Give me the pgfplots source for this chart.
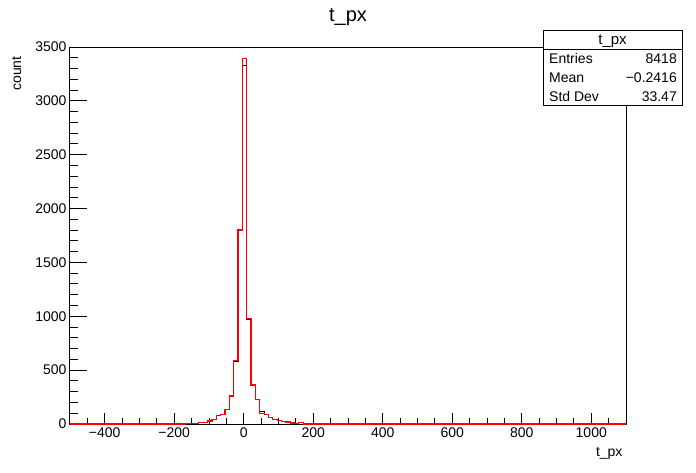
\documentclass[border=0pt]{standalone}
\usepackage{fontspec}
\setmainfont{Liberation Sans}
\usepackage{pgfplots}
\pgfplotsset{compat=1.18}
\begin{document}
\begin{tikzpicture}[x=1pt,y=1pt]
\path (0,0) rectangle (696,472);
% x ticks only
\begin{axis}[at={(70pt,48pt)}, anchor=south west, scale only axis,
  width=556pt, height=377pt,
  xmin=-500, xmax=1100, ymin=0, ymax=3500,
  axis line style={draw=none},
  xtick={-400,-200,0,200,400,600,800,1000},
  xticklabels={−400,−200,0,200,400,600,800,1000},
  minor xtick={-450,-400,...,1050},
  ytick=\empty,
  tick align=inside, xtick pos=bottom,
  major tick length=11.3pt, minor tick length=5.7pt,
  tick style={black, line width=1pt},
  xticklabel style={font=\fontsize{14}{16}\selectfont}]
\end{axis}
% main axis with y ticks and data
\begin{axis}[at={(70pt,48pt)}, anchor=south west, scale only axis,
  width=556pt, height=377pt,
  xmin=-500, xmax=1100, ymin=0, ymax=3500,
  clip=false,
  xtick=\empty,
  ytick={0,500,1000,1500,2000,2500,3000,3500},
  yticklabels={0,500,1000,1500,2000,2500,3000,3500},
  minor ytick={0,100,...,3500},
  tick align=inside, ytick pos=left,
  major tick length=16.7pt, minor tick length=8.3pt,
  axis line style={black, line width=1pt},
  tick style={black, line width=1pt},
  yticklabel style={font=\fontsize{14}{16}\selectfont}]
\addplot[const plot, black, line width=1pt] coordinates {
(-500,0) (-166.5,6) (-154,6) (-141.5,6) (-129,15) (-116.5,15) (-104,28)
(-91.5,45) (-79,75) (-66.5,90) (-54,139) (-41.5,260) (-29,578) (-16.5,1792)
(-4,3330) (8.5,966) (21,356) (33.5,226) (46,118) (58.5,90) (71,58) (83.5,43)
(96,34) (108.5,22) (121,19) (133.5,9) (146,6) (158.5,10) (171,6) (183.5,0) (1100,0)};
\addplot[const plot, red, line width=1.1pt] coordinates {
(-500,0) (-166.5,3) (-154,3) (-141.5,6) (-129,15) (-116.5,15) (-104,28)
(-91.5,43) (-79,77) (-66.5,90) (-54,136) (-41.5,260) (-29,588) (-16.5,1801)
(-4,3390) (8.5,976) (21,362) (33.5,226) (46,100) (58.5,88) (71,58) (83.5,43)
(96,34) (108.5,22) (121,19) (133.5,9) (146,6) (158.5,10) (171,0) (1100,0)};
\end{axis}
% titles
\node[anchor=base, font=\fontsize{20}{24}\selectfont] at (348,450) {t\_px};
\node[anchor=base east, rotate=90, font=\fontsize{14}{16}\selectfont] at (21,419) {count};
\node[anchor=base east, font=\fontsize{14}{16}\selectfont] at (626,16) {t\_px};
% stats box
\draw[black, line width=1pt, fill=white] (543,366) rectangle (682,441);
\draw[black, line width=1pt] (543,422.25) -- (682,422.25);
\node[anchor=base, font=\fontsize{15}{17}\selectfont] at (612.5,427.5) {t\_px};
\begin{scope}[font=\fontsize{14}{16}\selectfont]
\node[anchor=base west, inner sep=0pt] at (549,408) {Entries};
\node[anchor=base east, inner sep=0pt] at (677,408) {8418};
\node[anchor=base west, inner sep=0pt] at (549,389) {Mean};
\node[anchor=base east, inner sep=0pt] at (677,389) {−0.2416};
\node[anchor=base west, inner sep=0pt] at (549,370) {Std Dev};
\node[anchor=base east, inner sep=0pt] at (677,370) {33.47};
\end{scope}
\end{tikzpicture}
\end{document}
